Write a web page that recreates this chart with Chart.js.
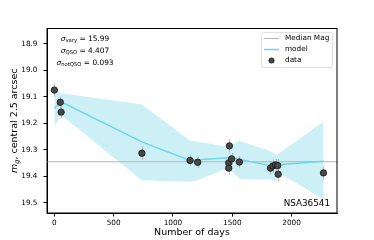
<!DOCTYPE html>
<html lang="en">
<head>
    <meta charset="UTF-8">
    <title>NSA36541 light curve</title>
    <style>
        body { margin: 0; padding: 0; background: #fff; }
        #wrap { width: 374px; height: 240px; }
    </style>
</head>
<body>
    <div id="wrap"><canvas id="lc" width="374" height="240"></canvas></div>

    <script src="https://cdn.jsdelivr.net/npm/chart.js"></script>
    <script>
        // observed points (days since first epoch, g magnitude, error)
        const days = [0, 50, 57, 738, 1144, 1208, 1470, 1470, 1476, 1495, 1560, 1822, 1842, 1865, 1883, 1887, 2269];
        const mags = [19.075, 19.121, 19.158, 19.313, 19.340, 19.347, 19.349, 19.369, 19.285, 19.334, 19.346, 19.369, 19.361, 19.357, 19.359, 19.392, 19.387];
        const errs = [0.025, 0.022, 0.022, 0.025, 0.022, 0.022, 0.022, 0.025, 0.025, 0.022, 0.022, 0.025, 0.025, 0.022, 0.025, 0.028, 0.025];

        // model curve and its uncertainty band
        const modelDays = [0, 57, 738, 1144, 1208, 1470, 1560, 1822, 1887, 2269];
        const modelMag = [19.144, 19.119, 19.270, 19.340, 19.337, 19.330, 19.336, 19.360, 19.356, 19.343];
        const bandDays = [0, 57, 738, 1144, 1208, 1470, 1560, 1822, 1865, 1887, 2269];
        const bandHi = [19.075, 19.087, 19.129, 19.266, 19.270, 19.289, 19.266, 19.305, 19.318, 19.316, 19.194];
        const bandLo = [19.213, 19.169, 19.415, 19.420, 19.415, 19.368, 19.410, 19.412, 19.420, 19.385, 19.486];

        const medianMag = 19.345;
        const xTicks = [0, 500, 1000, 1500, 2000];
        const yTicks = [18.9, 19.0, 19.1, 19.2, 19.3, 19.4, 19.5];
        const xLim = [-62, 2383];
        const yLim = [18.843, 19.538];

        const sigmas = [["vary", "15.99"], ["QSO", "4.407"], ["notQSO", "0.093"]];
        const objName = "NSA36541";

        const FONT = "'DejaVu Sans', sans-serif";
        const pts = (xs, ys) => xs.map((x, i) => ({ x: x, y: ys[i] }));

        // frame, error bars, texts and legend drawn on the canvas
        const extras = {
            id: 'extras',
            beforeDatasetDraw(chart, args) {
                if (args.index !== 4) return;
                const c = chart.ctx, xs = chart.scales.x, ys = chart.scales.y;
                c.save();
                c.strokeStyle = 'rgba(150,150,150,0.6)';
                c.lineWidth = 1;
                days.forEach((d, i) => {
                    const px = Math.round(xs.getPixelForValue(d)) + 0.5;
                    c.beginPath();
                    c.moveTo(px, ys.getPixelForValue(mags[i] - errs[i]));
                    c.lineTo(px, ys.getPixelForValue(mags[i] + errs[i]));
                    c.stroke();
                });
                c.restore();
            },
            afterDraw(chart) {
                const c = chart.ctx, a = chart.chartArea;
                c.save();
                // box
                c.strokeStyle = '#000';
                c.lineWidth = 1;
                c.strokeRect(a.left, a.top, a.right - a.left, a.bottom - a.top);

                // sigma annotations
                c.fillStyle = '#000';
                c.textBaseline = 'middle';
                sigmas.forEach((s, i) => {
                    const y = 39.5 + i * 12;
                    const big = '7.4px ' + FONT, small = '5.3px ' + FONT;
                    c.font = 'italic ' + big;
                    const w1 = c.measureText('σ').width;
                    c.font = small;
                    const w2 = c.measureText(s[0]).width;
                    c.font = big;
                    const rest = ' = ' + s[1];
                    const w3 = c.measureText(rest).width;
                    let x = 85 - (w1 + w2 + w3) / 2;
                    c.textAlign = 'left';
                    c.font = 'italic ' + big;
                    c.fillText('σ', x, y);
                    x += w1;
                    c.font = small;
                    c.fillText(s[0], x, y + 1.5);
                    x += w2;
                    c.font = big;
                    c.fillText(rest, x, y);
                });

                // object name
                c.font = '8.8px ' + FONT;
                c.textAlign = 'right';
                c.fillText(objName, a.right - 7, 203.5);

                // legend
                const lx = 261.5, ly = 32.5, lw = 71, lh = 35;
                c.fillStyle = 'rgba(255,255,255,0.8)';
                c.strokeStyle = '#d8d8d8';
                c.lineWidth = 0.8;
                c.beginPath();
                c.roundRect(lx, ly, lw, lh, 2);
                c.fill();
                c.stroke();
                const ds = chart.data.datasets;
                const rows = [ds[2], ds[3], ds[4]];
                c.font = '7.3px ' + FONT;
                c.textAlign = 'left';
                rows.forEach((d, i) => {
                    const y = 38.5 + i * 11;
                    if (d.showLine) {
                        c.strokeStyle = d.borderColor;
                        c.lineWidth = d.borderWidth;
                        c.beginPath();
                        c.moveTo(264, y);
                        c.lineTo(279, y);
                        c.stroke();
                    } else {
                        c.fillStyle = d.backgroundColor;
                        c.strokeStyle = d.borderColor;
                        c.lineWidth = 0.8;
                        c.beginPath();
                        c.arc(271.5, y, 2.6, 0, Math.PI * 2);
                        c.fill();
                        c.stroke();
                    }
                    c.fillStyle = '#000';
                    c.fillText(d.label, 285, y);
                });

                // axis titles
                c.font = '9.5px ' + FONT;
                c.textAlign = 'center';
                c.fillText('Number of days', (a.left + a.right) / 2, 233);

                c.translate(15, (a.top + a.bottom) / 2);
                c.rotate(-Math.PI / 2);
                const f1 = 'italic 9.5px ' + FONT, f2 = 'italic 6.6px ' + FONT, f3 = '9.5px ' + FONT;
                const t3 = ', central 2.5 arcsec';
                c.font = f1; const m1 = c.measureText('m').width;
                c.font = f2; const m2 = c.measureText('g').width;
                c.font = f3; const m3 = c.measureText(t3).width;
                let tx = -(m1 + m2 + m3) / 2;
                c.textAlign = 'left';
                c.font = f1; c.fillText('m', tx, 0); tx += m1;
                c.font = f2; c.fillText('g', tx, 2.5); tx += m2;
                c.font = f3; c.fillText(t3, tx, 0);
                c.restore();
            }
        };

        const ctx = document.getElementById('lc').getContext('2d');
        new Chart(ctx, {
            type: 'scatter',
            data: {
                datasets: [
                    {
                        label: 'band hi',
                        data: pts(bandDays, bandHi),
                        showLine: true,
                        pointRadius: 0,
                        borderWidth: 0,
                        borderColor: 'rgba(0,0,0,0)',
                        backgroundColor: 'rgba(120,215,232,0.38)',
                        fill: '+1',
                        order: 4
                    },
                    {
                        label: 'band lo',
                        data: pts(bandDays, bandLo),
                        showLine: true,
                        pointRadius: 0,
                        borderWidth: 0,
                        borderColor: 'rgba(0,0,0,0)',
                        fill: false,
                        order: 4
                    },
                    {
                        label: 'Median Mag',
                        data: pts(xLim, [medianMag, medianMag]),
                        showLine: true,
                        pointRadius: 0,
                        borderColor: '#b4b4b4',
                        borderWidth: 1,
                        order: 3
                    },
                    {
                        label: 'model',
                        data: pts(modelDays, modelMag),
                        showLine: true,
                        pointRadius: 0,
                        borderColor: '#6fd6e8',
                        borderWidth: 1.5,
                        order: 2
                    },
                    {
                        label: 'data',
                        data: pts(days, mags),
                        showLine: false,
                        pointRadius: 3.2,
                        backgroundColor: '#484848',
                        borderColor: '#111',
                        borderWidth: 0.8,
                        order: 1
                    }
                ]
            },
            options: {
                responsive: false,
                animation: false,
                layout: { padding: { left: 0, top: 28.5, right: 37, bottom: 0 } },
                plugins: { legend: { display: false }, tooltip: { enabled: false } },
                scales: {
                    x: {
                        type: 'linear',
                        min: xLim[0],
                        max: xLim[1],
                        afterBuildTicks: s => { s.ticks = xTicks.map(v => ({ value: v })); },
                        afterFit: s => { s.height = 27; },
                        grid: { drawOnChartArea: false, drawTicks: true, tickLength: 3.5, tickColor: '#000' },
                        border: { display: true, color: '#000' },
                        ticks: { color: '#000', font: { family: FONT, size: 7.3 }, padding: 2, maxRotation: 0, callback: v => String(v) }
                    },
                    y: {
                        type: 'linear',
                        reverse: true,
                        min: yLim[0],
                        max: yLim[1],
                        afterBuildTicks: s => { s.ticks = yTicks.map(v => ({ value: v })); },
                        afterFit: s => { s.width = 47; },
                        grid: { drawOnChartArea: false, drawTicks: true, tickLength: 3.5, tickColor: '#000' },
                        border: { display: true, color: '#000' },
                        ticks: { color: '#000', font: { family: FONT, size: 7.3 }, padding: 6, callback: v => v.toFixed(1) }
                    }
                }
            },
            plugins: [extras]
        });
    </script>
</body>
</html>
